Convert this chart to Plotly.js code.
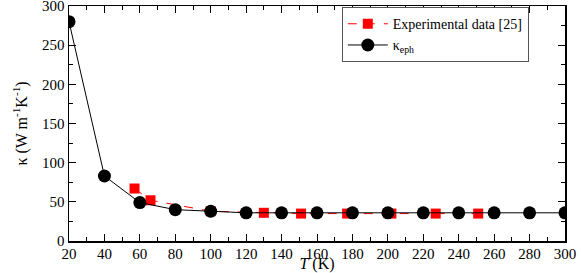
<!DOCTYPE html>
<html>
<head>
<meta charset="utf-8">
<script src="https://cdn.plot.ly/plotly-3.0.1.min.js"></script>
<style>
html,body{margin:0;padding:0;background:#fff;}
#chart{width:581px;height:273px;}
</style>
</head>
<body>
<div id="chart"></div>
<script>
const expT = [57, 66, 100, 130, 151, 177, 202, 227, 251];
const expK = [67, 52, 38, 36, 35, 35, 35, 35, 35];
const ephT = [20, 40, 60, 80, 100, 120, 140, 160, 180, 200, 220, 240, 260, 280, 300];
const ephK = [280, 83, 49, 40, 38, 36, 36, 36, 36, 36, 36, 36, 36, 36, 36];
const xTicks = [20, 40, 60, 80, 100, 120, 140, 160, 180, 200, 220, 240, 260, 280, 300];
const yTicks = [0, 50, 100, 150, 200, 250, 300];

const fnt = 'Times New Roman';
const traces = [
  {x: expT, y: expK, name: 'Experimental data [25]', mode: 'lines+markers', type: 'scatter',
   line: {color: '#ff0000', width: 1, dash: 'dash'},
   marker: {symbol: 'square', size: 10, color: '#ff0000'}},
  {x: ephT, y: ephK, name: 'κ<sub>eph</sub>', mode: 'lines+markers', type: 'scatter',
   line: {color: '#000000', width: 1},
   marker: {symbol: 'circle', size: 13, color: '#000000'}}
];
const axisCommon = {
  showgrid: false, zeroline: false, showline: true, linecolor: '#000', linewidth: 1.5,
  mirror: 'allticks', ticks: 'inside', ticklen: 7, tickwidth: 1, tickcolor: '#000',
  ticklabeloverflow: 'allow',
  tickfont: {family: fnt, size: 15, color: '#000'}
};
const layout = {
  width: 581, height: 273,
  margin: {l: 69, r: 16, t: 6, b: 32},
  paper_bgcolor: '#fff', plot_bgcolor: '#fff',
  font: {family: fnt, color: '#000'},
  showlegend: true,
  legend: {x: 0.55, y: 0.995, xanchor: 'left', yanchor: 'top',
    bgcolor: '#fff', bordercolor: '#555', borderwidth: 1,
    font: {family: fnt, size: 14, color: '#000'},
    tracegroupgap: 0, itemwidth: 40},
  xaxis: Object.assign({}, axisCommon, {
    range: [20, 300], tickvals: xTicks, ticktext: xTicks.map(String),
    ticklabelstandoff: -2,
    minor: {dtick: 10, ticks: 'inside', ticklen: 4, tickcolor: '#000', tickwidth: 1},
    title: {text: '<i>T</i> (K)', font: {family: fnt, size: 16, color: '#000'}}
  }),
  yaxis: Object.assign({}, axisCommon, {
    range: [0, 300], tickvals: yTicks, ticktext: yTicks.map(String),
    minor: {dtick: 25, ticks: 'inside', ticklen: 4, tickcolor: '#000', tickwidth: 1},
    title: {text: 'κ (W m<sup>-1</sup>K<sup>-1</sup>)', font: {family: fnt, size: 16, color: '#000'}}
  })
};
Plotly.newPlot('chart', traces, layout, {staticPlot: true, displayModeBar: false});
</script>
</body>
</html>
